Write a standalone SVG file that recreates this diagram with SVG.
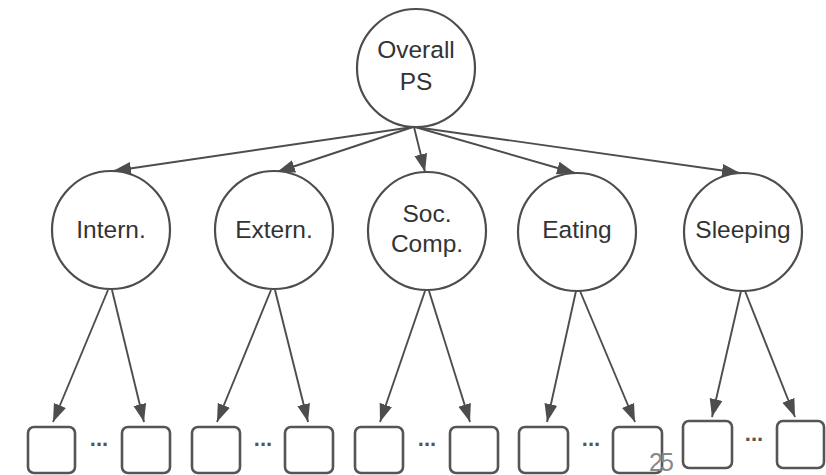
<svg xmlns="http://www.w3.org/2000/svg" width="826" height="475" viewBox="0 0 826 475">
<defs>
<style>
.node circle{fill:#fff;stroke:#4d4d4d;stroke-width:2.2}
.leaf rect{fill:#fff;stroke:#555;stroke-width:2.6}
.lbl{font-family:"Liberation Sans",Arial,sans-serif;font-size:24.5px;fill:#333;text-anchor:middle}
.dots{font-family:"Liberation Sans",Arial,sans-serif;font-size:22px;font-weight:bold;fill:#555;text-anchor:middle}
.edge{stroke:#4d4d4d;stroke-width:1.9;fill:none;marker-end:url(#ah)}
</style>
<marker id="ah" markerUnits="userSpaceOnUse" markerWidth="19" markerHeight="14" refX="18" refY="7" orient="auto">
<path d="M0,0.5 L18,7 L0,13.5 z" fill="#4d4d4d"/>
</marker>
</defs>
<rect width="826" height="475" fill="#fff"/>
<g id="connectors">
<line class="edge" x1="413" y1="127" x2="113" y2="171"/>
<line class="edge" x1="413" y1="127" x2="277" y2="172"/>
<line class="edge" x1="414" y1="127" x2="425" y2="172"/>
<line class="edge" x1="415" y1="127" x2="575" y2="173"/>
<line class="edge" x1="415" y1="127" x2="740" y2="173"/>
<line class="edge" x1="108" y1="290" x2="53" y2="422"/>
<line class="edge" x1="112" y1="290" x2="144" y2="422"/>
<line class="edge" x1="271" y1="290" x2="217" y2="422"/>
<line class="edge" x1="275" y1="290" x2="308" y2="422"/>
<line class="edge" x1="425" y1="291" x2="380" y2="422"/>
<line class="edge" x1="429" y1="291" x2="470" y2="422"/>
<line class="edge" x1="576" y1="291" x2="547" y2="422"/>
<line class="edge" x1="580" y1="291" x2="635" y2="422"/>
<line class="edge" x1="741" y1="291" x2="712" y2="417"/>
<line class="edge" x1="745" y1="291" x2="795" y2="417"/>
</g>
<g id="overall" class="node"><circle cx="416" cy="68" r="59"/><text class="lbl" x="416" y="58">Overall</text><text class="lbl" x="416" y="90">PS</text></g>
<g id="intern" class="node"><circle cx="111" cy="230" r="59"/><text class="lbl" x="111" y="238">Intern.</text></g>
<g id="extern" class="node"><circle cx="274" cy="230" r="59"/><text class="lbl" x="274" y="238">Extern.</text></g>
<g id="soccomp" class="node"><circle cx="427" cy="231" r="59"/><text class="lbl" x="427" y="222">Soc.</text><text class="lbl" x="427" y="252">Comp.</text></g>
<g id="eating" class="node"><circle cx="577" cy="232" r="59"/><text class="lbl" x="577" y="238">Eating</text></g>
<g id="sleeping" class="node"><circle cx="743" cy="232" r="59"/><text class="lbl" x="743" y="238">Sleeping</text></g>
<g id="leaf1" class="leaf"><rect x="28" y="427" width="47" height="46" rx="6"/></g>
<g id="leaf2" class="leaf"><rect x="122" y="427" width="48" height="46" rx="6"/></g>
<g id="leaf3" class="leaf"><rect x="192" y="427" width="48" height="46" rx="6"/></g>
<g id="leaf4" class="leaf"><rect x="285" y="427" width="48" height="46" rx="6"/></g>
<g id="leaf5" class="leaf"><rect x="355" y="427" width="48" height="46" rx="6"/></g>
<g id="leaf6" class="leaf"><rect x="450" y="427" width="48" height="46" rx="6"/></g>
<g id="leaf7" class="leaf"><rect x="519" y="427" width="49" height="46" rx="6"/></g>
<g id="leaf8" class="leaf"><rect x="613" y="427" width="49" height="46" rx="6"/></g>
<g id="leaf9" class="leaf"><rect x="683" y="421" width="49" height="47" rx="6"/></g>
<g id="leaf10" class="leaf"><rect x="777" y="421" width="47" height="47" rx="6"/></g>
<g id="ellipses">
<text class="dots" x="99" y="446">...</text>
<text class="dots" x="263" y="446">...</text>
<text class="dots" x="427" y="446">...</text>
<text class="dots" x="591" y="446">...</text>
<text class="dots" x="754" y="441">...</text>
</g>
<text x="660" y="471" font-family="Liberation Sans,Arial,sans-serif" font-size="25" fill="#888" text-anchor="middle" letter-spacing="-3">25</text>
</svg>
